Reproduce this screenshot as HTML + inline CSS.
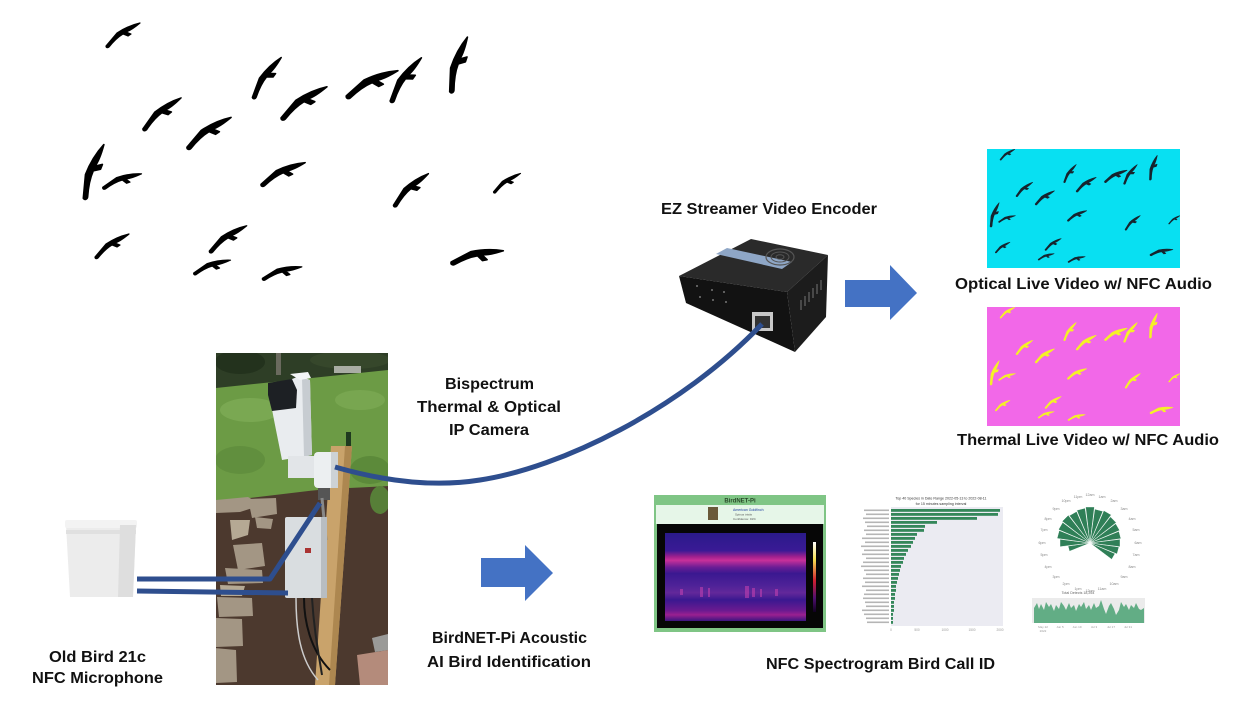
<!DOCTYPE html>
<html><head><meta charset="utf-8"><style>
html,body{margin:0;padding:0;background:#fff;}
svg{display:block;}
.t{font-family:"Liberation Sans",sans-serif;font-weight:bold;font-size:15.5px;fill:#111;}
.s{font-family:"Liberation Sans",sans-serif;fill:#888;}
</style></head><body>
<svg width="1240" height="703" viewBox="0 0 1240 703" xmlns="http://www.w3.org/2000/svg">
<defs>
<path id="b" d="M-17,11 L-6,-2 C0,-6 8,-10 17,-12 C11,-7 6,-4 3,-3 L8,-1 L5,1 L0,-1 C-5,2 -10,7 -14,12 C-15,13 -17,13 -17,11 Z"/>
<clipPath id="pc"><rect x="216" y="353" width="172" height="332"/></clipPath>
<clipPath id="cy"><rect x="987" y="149" width="193" height="119"/></clipPath>
<clipPath id="mg"><rect x="987" y="307" width="193" height="119"/></clipPath>
<linearGradient id="spec" x1="0" y1="0" x2="0" y2="1">
<stop offset="0" stop-color="#2a1a8a"/>
<stop offset="0.2" stop-color="#3a1a95"/>
<stop offset="0.27" stop-color="#a0208e"/>
<stop offset="0.31" stop-color="#c8309a"/>
<stop offset="0.39" stop-color="#6a1d95"/>
<stop offset="0.46" stop-color="#3a1890"/>
<stop offset="0.6" stop-color="#4f2298"/>
<stop offset="0.68" stop-color="#63289a"/>
<stop offset="0.76" stop-color="#3a1890"/>
<stop offset="0.88" stop-color="#6a1a90"/>
<stop offset="0.93" stop-color="#9a2090"/>
<stop offset="1" stop-color="#3a1580"/>
</linearGradient>
<linearGradient id="cbar" x1="0" y1="0" x2="0" y2="1">
<stop offset="0" stop-color="#fff"/><stop offset="0.25" stop-color="#f5e050"/>
<stop offset="0.55" stop-color="#d02030"/><stop offset="0.8" stop-color="#501070"/><stop offset="1" stop-color="#100020"/>
</linearGradient>
</defs>
<rect width="1240" height="703" fill="#fff"/>

<!-- Flock -->
<g fill="#000" stroke="#000" stroke-width="1.2" stroke-linejoin="round">
<g id="flock">
<use href="#b" transform="translate(123,35) scale(1.0)"/>
<use href="#b" transform="translate(267,78) rotate(-20) scale(1.2)"/>
<use href="#b" transform="translate(162,114) rotate(-5) scale(1.2)"/>
<use href="#b" transform="translate(209,133) scale(1.3)"/>
<use href="#b" transform="translate(304,103) scale(1.35)"/>
<use href="#b" transform="translate(372,84) rotate(8) scale(1.4)"/>
<use href="#b" transform="translate(406,80) rotate(-20) scale(1.3)"/>
<use href="#b" transform="translate(459,65) rotate(-38) scale(1.4)"/>
<use href="#b" transform="translate(94,172) rotate(-35) scale(1.4)"/>
<use href="#b" transform="translate(122,181) rotate(15) scale(1.0)"/>
<use href="#b" transform="translate(283,174) rotate(8) scale(1.2)"/>
<use href="#b" transform="translate(411,190) rotate(-8) scale(1.15)"/>
<use href="#b" transform="translate(507,183) scale(0.8)"/>
<use href="#b" transform="translate(112,246) scale(1.0)"/>
<use href="#b" transform="translate(228,239) scale(1.1)"/>
<use href="#b" transform="translate(212,267) rotate(15) scale(0.95)"/>
<use href="#b" transform="translate(282,273) rotate(18) scale(1.0)"/>
<use href="#b" transform="translate(477,257) rotate(22) scale(1.3)"/>
</g>
</g>

<!-- Video panels -->
<rect x="987" y="149" width="193" height="119" fill="#08e0f2"/>
<g clip-path="url(#cy)" fill="#16242e" stroke="#16242e" stroke-width="1.2" stroke-linejoin="round">
<use href="#flock" transform="translate(953.9,139.2) scale(0.435,0.44)"/>
</g>
<rect x="987" y="307" width="193" height="119" fill="#f268e8"/>
<g clip-path="url(#mg)" fill="#f4f226" stroke="#f4f226" stroke-width="1.2" stroke-linejoin="round">
<use href="#flock" transform="translate(953.9,297.2) scale(0.435,0.44)"/>
</g>

<!-- Encoder -->
<polygon points="679,276 751,239 828,255 787,292" fill="#2a2a2a"/>
<polygon points="679,276 787,292 795,352 686,303" fill="#121212"/>
<polygon points="787,292 828,255 826,317 795,352" fill="#1c1c1c"/>
<polygon points="716,254 727,248 792,262 782,269" fill="#8ea6c6"/>
<ellipse cx="780" cy="257" rx="14" ry="8" fill="none" stroke="#555" stroke-width="1.2"/>
<ellipse cx="780" cy="257" rx="9" ry="5" fill="none" stroke="#555" stroke-width="1"/>
<ellipse cx="780" cy="257" rx="4" ry="2.3" fill="none" stroke="#555" stroke-width="1"/>
<g stroke="#666" stroke-width="1.2">
<line x1="801" y1="300" x2="801" y2="310"/><line x1="805" y1="296" x2="805" y2="306"/>
<line x1="809" y1="292" x2="809" y2="302"/><line x1="813" y1="288" x2="813" y2="298"/>
<line x1="817" y1="284" x2="817" y2="294"/><line x1="821" y1="280" x2="821" y2="290"/>
</g>
<g fill="#777"><circle cx="697" cy="286" r="1"/><circle cx="700" cy="297" r="1"/><circle cx="712" cy="290" r="1"/><circle cx="713" cy="300" r="1"/><circle cx="724" cy="292" r="1"/><circle cx="726" cy="302" r="1"/></g>
<rect x="752" y="312" width="21" height="19" fill="#c8c8c8"/>
<rect x="755" y="316" width="15" height="12" fill="#333"/>

<!-- Photo -->
<g clip-path="url(#pc)">
<rect x="216" y="353" width="172" height="332" fill="#4c392e"/>
<rect x="216" y="353" width="172" height="36" fill="#2e3e26"/>
<ellipse cx="240" cy="362" rx="25" ry="12" fill="#23321d"/>
<ellipse cx="350" cy="360" rx="40" ry="9" fill="#36472b"/>
<rect x="276" y="353" width="5" height="22" fill="#6a6a5e"/>
<path d="M216,388 L388,370 L388,486 C360,488 330,488 300,492 L216,502 Z" fill="#6c9b45"/>
<ellipse cx="250" cy="410" rx="30" ry="12" fill="#80ae58" opacity="0.7"/>
<ellipse cx="360" cy="400" rx="25" ry="10" fill="#7dab55" opacity="0.7"/>
<ellipse cx="240" cy="460" rx="25" ry="14" fill="#5f8c3c" opacity="0.8"/>
<ellipse cx="370" cy="470" rx="20" ry="14" fill="#5c8a3a"/>
<rect x="334" y="366" width="27" height="7" fill="#a9ada4"/>
<ellipse cx="380" cy="500" rx="10" ry="14" fill="#577f38"/>
<g fill="#a39684">
<polygon points="216,500 248,497 262,505 240,512 216,513"/>
<polygon points="248,499 276,498 277,514 252,518"/>
<polygon points="255,517 273,519 271,529 257,528"/>
<polygon points="233,545 262,543 265,566 238,570"/>
<polygon points="225,568 262,570 263,583 228,584"/>
<polygon points="217,597 252,598 253,616 219,617"/>
<polygon points="215,618 242,619 243,646 216,647"/>
<polygon points="215,648 236,650 237,682 215,683"/>
</g>
<g fill="#b5a994"><polygon points="230,520 250,520 248,535 232,540"/><polygon points="220,585 245,586 242,596 221,596"/></g>
<polygon points="357,655 388,650 388,685 360,685" fill="#b48b7b"/>
<polygon points="372,638 388,634 388,650 375,652" fill="#9a9a98"/>
<rect x="346" y="432" width="5" height="16" fill="#1f3a1f"/>
<!-- post -->
<polygon points="331,446 352,446 335,685 315,685" fill="#c9a36b"/>
<polygon points="345,446 352,446 335,685 329,685" fill="#ad8750"/>
<!-- camera -->
<polygon points="268,388 300,376 310,380 312,455 282,460 274,420" fill="#e9ecef"/>
<polygon points="302,378 310,380 312,455 304,457" fill="#c7ccd1"/>
<polygon points="268,383 292,379 297,390 296,408 272,411 268,395" fill="#1d2024"/>
<polygon points="290,374 308,372 311,378 300,380" fill="#f3f5f6"/>
<rect x="288" y="456" width="28" height="22" fill="#e2e5e8"/>
<rect x="314" y="452" width="24" height="36" rx="4" fill="#eceff1"/>
<rect x="331" y="452" width="7" height="36" fill="#cdd2d6"/>
<rect x="318" y="488" width="12" height="12" fill="#555"/>
<path d="M322,498 L326,540" stroke="#888" stroke-width="3"/>
<!-- enclosure -->
<rect x="285" y="517" width="42" height="81" rx="2" fill="#d9dde0"/>
<rect x="321" y="517" width="6" height="81" fill="#b8bdc1"/>
<rect x="305" y="548" width="6" height="5" fill="#a33"/>
<path d="M304,598 C304,620 310,650 330,670" stroke="#111" stroke-width="2" fill="none"/>
<path d="M312,598 C314,630 318,650 322,675" stroke="#222" stroke-width="2" fill="none"/>
<path d="M296,598 C296,630 300,660 318,680" stroke="#ccc" stroke-width="1.5" fill="none"/>
</g>

<!-- Microphone bucket -->
<path d="M66,525 L136,525 L133,597 L70,597 Z" fill="#ececec"/>
<rect x="65" y="520" width="72" height="8" rx="2" fill="#f3f3f3"/>
<rect x="66" y="530" width="70" height="4" fill="#e0e0e0"/>
<path d="M120,525 L136,525 L133,597 L118,597 Z" fill="#dedede"/>

<!-- Blue cables -->
<g stroke="#2e4e8e" stroke-width="5" fill="none" stroke-linejoin="round">
<path d="M137,579 L270,579 L320,503"/>
<path d="M137,591 L288,593"/>
<path d="M335,467 C380,480 430,488 480,480 C560,468 680,410 762,324"/>
</g>

<!-- Blue arrows -->
<polygon points="845,280 890,280 890,265 917,293 890,320 890,307 845,307" fill="#4472c4"/>
<polygon points="481,558 525,558 525,545 553,573 525,601 525,587 481,587" fill="#4472c4"/>

<!-- BirdNET spectrogram panel -->
<rect x="654" y="495" width="172" height="137" fill="#7fc585"/>
<rect x="656" y="505" width="168" height="19" fill="#e6f6e8"/>
<text x="740" y="502.5" font-family="Liberation Sans,sans-serif" font-size="6" font-weight="bold" fill="#2a4a2a" text-anchor="middle">BirdNET-Pi</text>
<rect x="708" y="507" width="10" height="13" fill="#6a5a3a"/>
<text x="733" y="511" font-family="Liberation Sans,sans-serif" font-size="3.5" fill="#2040a0">American Goldfinch</text>
<text x="735" y="515.5" font-family="Liberation Sans,sans-serif" font-size="3" fill="#555">Spinus tristis</text>
<text x="733" y="520" font-family="Liberation Sans,sans-serif" font-size="3" fill="#555">Confidence: 91%</text>
<rect x="657" y="524" width="166" height="104" fill="#060606"/>
<rect x="665" y="533" width="141" height="88" fill="url(#spec)"/>
<g fill="#c040b0" opacity="0.6">
<rect x="700" y="587" width="3" height="10"/><rect x="708" y="588" width="2" height="9"/><rect x="745" y="586" width="4" height="12"/><rect x="752" y="588" width="3" height="9"/><rect x="760" y="589" width="2" height="8"/><rect x="680" y="589" width="3" height="6"/><rect x="775" y="589" width="3" height="7"/>
</g>
<rect x="813" y="542" width="3" height="70" fill="url(#cbar)"/>

<!-- Bar chart -->
<text x="941" y="499.5" font-family="Liberation Sans,sans-serif" font-size="3.6" fill="#333" text-anchor="middle">Top 40 Species in Date Range 2022-05-13 to 2022-08-11</text>
<text x="941" y="505" font-family="Liberation Sans,sans-serif" font-size="3.6" fill="#333" text-anchor="middle">for 15 minutes sampling interval</text>
<rect x="891" y="507" width="112" height="119" fill="#ebebf2"/>
<g fill="#34875a">
<rect x="891" y="509" width="109" height="2.8"/><rect x="891" y="513" width="107" height="2.8"/><rect x="891" y="517" width="86" height="2.8"/>
<rect x="891" y="521" width="46" height="2.8"/><rect x="891" y="525" width="34" height="2.8"/><rect x="891" y="529" width="33" height="2.8"/>
<rect x="891" y="533" width="26" height="2.8"/><rect x="891" y="537" width="24" height="2.8"/><rect x="891" y="541" width="22" height="2.8"/>
<rect x="891" y="545" width="20" height="2.8"/><rect x="891" y="549" width="17" height="2.8"/><rect x="891" y="553" width="15" height="2.8"/>
<rect x="891" y="557" width="13" height="2.8"/><rect x="891" y="561" width="12" height="2.8"/><rect x="891" y="565" width="10" height="2.8"/>
<rect x="891" y="569" width="9" height="2.8"/><rect x="891" y="573" width="8" height="2.8"/><rect x="891" y="577" width="7" height="2.8"/>
<rect x="891" y="581" width="6" height="2.8"/><rect x="891" y="585" width="5" height="2.8"/><rect x="891" y="589" width="5" height="2.8"/>
<rect x="891" y="593" width="4" height="2.8"/><rect x="891" y="597" width="4" height="2.8"/><rect x="891" y="601" width="3" height="2.8"/>
<rect x="891" y="605" width="3" height="2.8"/><rect x="891" y="609" width="3" height="2.8"/><rect x="891" y="613" width="2" height="2.8"/>
<rect x="891" y="617" width="2" height="2.8"/><rect x="891" y="621" width="2" height="2.8"/>
</g>
<g fill="#b5b5b5">
<rect x="864" y="509.5" width="25" height="1.6"/><rect x="866" y="513.5" width="23" height="1.6"/><rect x="863" y="517.5" width="26" height="1.6"/>
<rect x="865" y="521.5" width="24" height="1.6"/><rect x="867" y="525.5" width="22" height="1.6"/><rect x="864" y="529.5" width="25" height="1.6"/>
<rect x="866" y="533.5" width="23" height="1.6"/><rect x="862" y="537.5" width="27" height="1.6"/><rect x="865" y="541.5" width="24" height="1.6"/>
<rect x="861" y="545.5" width="28" height="1.6"/><rect x="864" y="549.5" width="25" height="1.6"/><rect x="862" y="553.5" width="27" height="1.6"/>
<rect x="866" y="557.5" width="23" height="1.6"/><rect x="863" y="561.5" width="26" height="1.6"/><rect x="861" y="565.5" width="28" height="1.6"/>
<rect x="864" y="569.5" width="25" height="1.6"/><rect x="866" y="573.5" width="23" height="1.6"/><rect x="863" y="577.5" width="26" height="1.6"/>
<rect x="865" y="581.5" width="24" height="1.6"/><rect x="862" y="585.5" width="27" height="1.6"/><rect x="866" y="589.5" width="23" height="1.6"/>
<rect x="864" y="593.5" width="25" height="1.6"/><rect x="863" y="597.5" width="26" height="1.6"/><rect x="865" y="601.5" width="24" height="1.6"/>
<rect x="866" y="605.5" width="23" height="1.6"/><rect x="862" y="609.5" width="27" height="1.6"/><rect x="864" y="613.5" width="25" height="1.6"/>
<rect x="866" y="617.5" width="23" height="1.6"/><rect x="867" y="621.5" width="22" height="1.6"/>
</g>
<g font-family="Liberation Sans,sans-serif" font-size="3.2" fill="#999" text-anchor="middle">
<text x="891" y="631">0</text><text x="917" y="631">500</text><text x="945" y="631">1000</text><text x="972" y="631">1500</text><text x="1000" y="631">2000</text>
</g>

<!-- Polar chart -->
<g fill="#2f7f57" stroke="#fff" stroke-width="0.4">
<polygon points="0,0 -2.7,-22 2.7,-22" transform="translate(1090,543) rotate(-105)"/>
<polygon points="0,0 -3.7,-30 3.7,-30" transform="translate(1090,543) rotate(-90)"/>
<polygon points="0,0 -4.1,-33 4.1,-33" transform="translate(1090,543) rotate(-75)"/>
<polygon points="0,0 -4.2,-34 4.2,-34" transform="translate(1090,543) rotate(-60)"/>
<polygon points="0,0 -4.3,-35 4.3,-35" transform="translate(1090,543) rotate(-45)"/>
<polygon points="0,0 -4.2,-34 4.2,-34" transform="translate(1090,543) rotate(-30)"/>
<polygon points="0,0 -4.3,-35 4.3,-35" transform="translate(1090,543) rotate(-15)"/>
<polygon points="0,0 -4.4,-36 4.4,-36" transform="translate(1090,543) rotate(0)"/>
<polygon points="0,0 -4.2,-34 4.2,-34" transform="translate(1090,543) rotate(15)"/>
<polygon points="0,0 -4.3,-35 4.3,-35" transform="translate(1090,543) rotate(30)"/>
<polygon points="0,0 -4.1,-33 4.1,-33" transform="translate(1090,543) rotate(45)"/>
<polygon points="0,0 -3.9,-32 3.9,-32" transform="translate(1090,543) rotate(60)"/>
<polygon points="0,0 -3.8,-31 3.8,-31" transform="translate(1090,543) rotate(75)"/>
<polygon points="0,0 -3.7,-30 3.7,-30" transform="translate(1090,543) rotate(90)"/>
<polygon points="0,0 -3.6,-29 3.6,-29" transform="translate(1090,543) rotate(105)"/>
<polygon points="0,0 -3.3,-27 3.3,-27" transform="translate(1090,543) rotate(120)"/>
</g>
<g class="s" font-size="3.6" text-anchor="middle">
<text x="1090" y="496">12am</text><text x="1102" y="498">1am</text><text x="1114" y="502">2am</text><text x="1124" y="510">3am</text>
<text x="1132" y="520">4am</text><text x="1136" y="531">5am</text><text x="1138" y="544">6am</text><text x="1136" y="556">7am</text>
<text x="1132" y="568">8am</text><text x="1124" y="578">9am</text><text x="1114" y="585">10am</text><text x="1102" y="590">11am</text>
<text x="1090" y="592">12pm</text><text x="1078" y="590">1pm</text><text x="1066" y="585">2pm</text><text x="1056" y="578">3pm</text>
<text x="1048" y="568">4pm</text><text x="1044" y="556">5pm</text><text x="1042" y="544">6pm</text><text x="1044" y="531">7pm</text>
<text x="1048" y="520">8pm</text><text x="1056" y="510">9pm</text><text x="1066" y="502">10pm</text><text x="1078" y="498">11pm</text>
</g>

<!-- Area chart -->
<text x="1078" y="594" font-family="Liberation Sans,sans-serif" font-size="3.6" fill="#666" text-anchor="middle">Total Detects 18,254</text>
<rect x="1032" y="598" width="113" height="25" fill="#ebebeb"/>
<path d="M1034,623 L1034,608 L1037,603 L1039,609 L1041,604 L1044,610 L1046,602 L1049,607 L1051,604 L1054,611 L1056,605 L1059,609 L1061,602 L1064,606 L1066,610 L1069,603 L1071,608 L1074,605 L1076,611 L1079,604 L1081,607 L1084,602 L1086,609 L1089,605 L1091,610 L1094,603 L1096,608 L1099,606 L1101,600 L1104,609 L1106,614 L1109,606 L1111,603 L1114,609 L1116,615 L1119,610 L1121,602 L1124,607 L1126,604 L1129,610 L1131,605 L1134,608 L1136,603 L1139,609 L1141,610 L1144,608 L1144,623 Z" fill="#62ad85"/>
<g font-family="Liberation Sans,sans-serif" font-size="3" fill="#999" text-anchor="middle">
<text x="1043" y="628">May 22</text><text x="1060" y="628">Jun 5</text><text x="1077" y="628">Jun 19</text><text x="1094" y="628">Jul 3</text><text x="1111" y="628">Jul 17</text><text x="1128" y="628">Jul 31</text>
<text x="1043" y="632">2022</text>
</g>

<!-- Labels -->
<text class="t" x="661" y="214" textLength="216" lengthAdjust="spacingAndGlyphs">EZ Streamer Video Encoder</text>
<text class="t" x="955" y="289" textLength="257" lengthAdjust="spacingAndGlyphs">Optical Live Video w/ NFC Audio</text>
<text class="t" x="957" y="445" textLength="262" lengthAdjust="spacingAndGlyphs">Thermal Live Video w/ NFC Audio</text>
<text class="t" x="445" y="389" textLength="89" lengthAdjust="spacingAndGlyphs">Bispectrum</text>
<text class="t" x="417" y="412" textLength="144" lengthAdjust="spacingAndGlyphs">Thermal &amp; Optical</text>
<text class="t" x="449" y="435" textLength="80" lengthAdjust="spacingAndGlyphs">IP Camera</text>
<text class="t" x="432" y="643" textLength="155" lengthAdjust="spacingAndGlyphs">BirdNET-Pi Acoustic</text>
<text class="t" x="427" y="667" textLength="164" lengthAdjust="spacingAndGlyphs">AI Bird Identification</text>
<text class="t" x="49" y="662" textLength="97" lengthAdjust="spacingAndGlyphs">Old Bird 21c</text>
<text class="t" x="32" y="683" textLength="131" lengthAdjust="spacingAndGlyphs">NFC Microphone</text>
<text class="t" x="766" y="669" textLength="229" lengthAdjust="spacingAndGlyphs">NFC Spectrogram Bird Call ID</text>
</svg>
</body></html>
